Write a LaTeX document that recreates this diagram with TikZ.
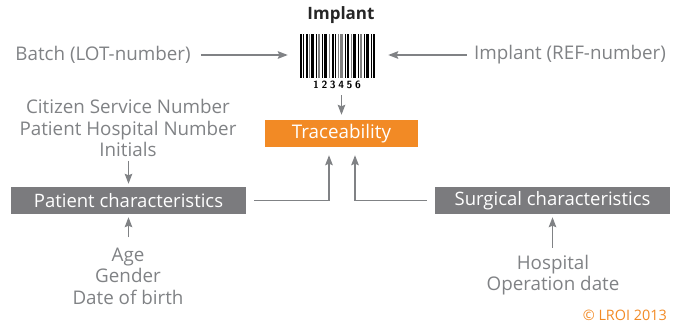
\documentclass[tikz,border=0pt]{standalone}
\usepackage{fontspec}
\setmainfont{Open Sans}
\usetikzlibrary{arrows.meta}
\definecolor{txtgray}{HTML}{808285}
\definecolor{boxgray}{HTML}{7B7B7E}
\definecolor{lroiorange}{HTML}{F28A25}
\tikzset{
  arr/.style={draw=txtgray, line width=1.6pt, -{Stealth[length=10pt,width=7.5pt,inset=1.5pt]}},
  lbl/.style={text=txtgray, font=\fontsize{18.8}{21.5}\selectfont, align=center, inner sep=0pt},
  charbox/.style={fill=boxgray, text=white, minimum width=235pt, minimum height=27pt,
    inner sep=0pt, font=\fontsize{18.5}{20}\selectfont},
}
\begin{document}
\begin{tikzpicture}[x=1pt,y=1pt]
  \useasboundingbox (0,0) rectangle (681,-324);
  % implant with barcode
  \node[font=\bfseries\fontsize{17}{20}\selectfont, text=black!85] (implant) at (341,-15) {Implant};
  \node[minimum width=97pt, minimum height=62pt, inner sep=0pt] (bc) at (338.5,-55) {};
  \foreach \bx/\bw/\bc in {0/2/black,3/1/black,5.5/2/black,9/1/gray,11/3/black,15.5/1/black,
      18/2/gray,21.5/1/black,24/3/black,29/1/gray,31.5/2/black,35/1/black,37.5/1/gray,
      40/3/gray,44.5/1/black,47/2/black,50.5/1/gray,53/3/black,57.5/1/black,60/2/gray,
      63.5/1/black,66/3/black,70.5/1/black,73/2/black}
    \fill[\bc] (300+\bx,-34) rectangle ++(\bw,-44);
  \node[font=\bfseries\sffamily\fontsize{10.5}{12}\selectfont, inner sep=0pt] (digits) at (337,-85)
    {1\kern2.6pt2\kern2.6pt3\kern2.6pt4\kern2.6pt5\kern2.6pt6};
  % traceability
  \node[fill=lroiorange, text=white, minimum width=153pt, minimum height=27pt, inner sep=0pt,
    font=\fontsize{18.8}{20}\selectfont] (trace) at (341.5,-133.5) {Traceability};
  \node[lbl] (batch) at (103,-55) {Batch (LOT-number)};
  \node[lbl] (ref) at (570,-55) {Implant (REF-number)};
  \draw[arr, shorten <=10pt, shorten >=2pt] (batch.east) -- (batch.east -| bc.west);
  \draw[arr, shorten <=7pt, shorten >=1pt] (ref.west) -- (ref.west -| bc.east);
  \draw[arr, shorten <=6pt, shorten >=5pt] (digits.south -| trace.north) -- (trace.north);
  % patient and surgical
  \node[lbl] (pinfo) at (128,-128) {Citizen Service Number\\Patient Hospital Number\\Initials};
  \node[charbox] (pc) at (128.5,-200.5) {Patient characteristics};
  \node[charbox] (sc) at (552.5,-200.5) {Surgical characteristics};
  \node[lbl] (page) at (128,-276) {Age\\Gender\\Date of birth};
  \node[lbl] (sinfo) at (553,-275) {Hospital\\Operation date};
  \draw[arr, shorten <=4pt, shorten >=3pt] (pinfo.south -| pc.north) -- (pc.north);
  \draw[arr, shorten <=10pt, shorten >=3pt] (page.north -| pc.south) -- (pc.south);
  \draw[arr, shorten <=7pt, shorten >=3pt] (sinfo.north -| sc.south) -- (sc.south);
  \draw[arr, shorten <=8pt, shorten >=8pt] (pc.east) -| ([xshift=-12.5pt]trace.south);
  \draw[arr, shorten <=8pt, shorten >=8pt] (sc.west) -| ([xshift=13.5pt]trace.south);
  \node[text=lroiorange, font=\fontsize{14.4}{16}\selectfont, anchor=east, inner sep=0pt] (copy) at (667,-315) {\textcopyright{} LROI 2013};
\end{tikzpicture}
\end{document}
